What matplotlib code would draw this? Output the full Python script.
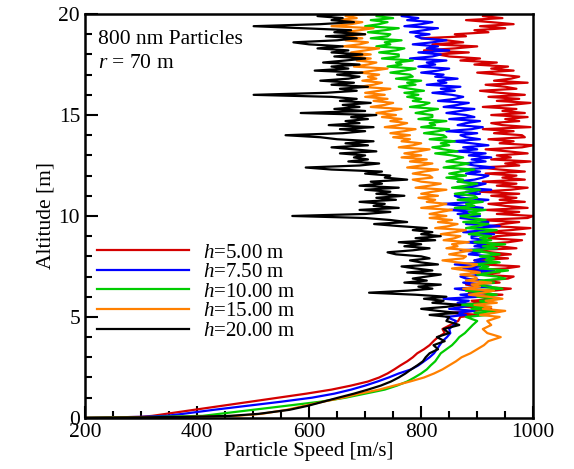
import numpy as np
import matplotlib
matplotlib.use("Agg")
import matplotlib.pyplot as plt
from matplotlib.ticker import MultipleLocator

plt.rcParams['font.family'] = 'Liberation Serif'
plt.rcParams['mathtext.fontset'] = 'custom'
plt.rcParams['mathtext.rm'] = 'Liberation Serif'
plt.rcParams['mathtext.it'] = 'Liberation Serif:italic'

# altitude grid [m]: fine near the ground, then every 0.1 m from 5 m up to 20 m
alt_low = [0.0, 0.05, 0.1, 0.2, 0.4, 0.6, 0.8, 1.0, 1.2, 1.4, 1.6, 1.8, 2.0, 2.2,
           2.4, 2.6, 2.8, 3.0, 3.2, 3.4, 3.6, 3.8, 4.0, 4.2, 4.4, 4.6, 4.8]
alt_high = np.round(np.arange(5.0, 20.001, 0.1), 2)
altitude = np.concatenate([alt_low, alt_high])

# particle speed [m/s], one list per release height
# (upper part: one row per metre of altitude)
h5_low = [200, 300, 320, 345, 395, 445, 495, 545, 595, 640, 675, 705, 725, 740,
          752, 763, 775, 785, 793, 805, 815, 822, 830, 842, 838, 852, 866]
h5_high = [870, 905, 850, 895, 925, 880, 860, 910, 890, 935,
           900, 945, 885, 930, 960, 905, 880, 940, 915, 955,
           965, 900, 940, 885, 950, 975, 910, 935, 895, 955,
           910, 960, 925, 890, 970, 940, 905, 955, 980, 920,
           935, 985, 910, 960, 995, 925, 945, 975, 900, 990,
           1000, 935, 975, 915, 990, 950, 920, 985, 940, 970,
           925, 975, 905, 960, 990, 935, 970, 910, 985, 945,
           970, 915, 985, 940, 905, 975, 950, 995, 925, 960,
           935, 990, 955, 915, 980, 1000, 940, 965, 920, 985,
           980, 930, 965, 910, 995, 945, 925, 975, 950, 990,
           925, 985, 945, 970, 910, 960, 995, 935, 975, 920,
           985, 940, 905, 970, 950, 915, 990, 930, 960, 975,
           940, 900, 965, 925, 955, 895, 935, 870, 905, 850,
           830, 885, 805, 860, 900, 820, 875, 845, 800, 880,
           860, 920, 895, 950, 905, 965, 925, 880, 945, 910,
           935]

h75_low = [200, 300, 345, 375, 430, 490, 550, 605, 645, 675, 700, 722, 742, 760,
           782, 795, 805, 815, 823, 828, 833, 838, 846, 852, 850, 858, 862]
h75_high = [845, 880, 860, 895, 850, 875, 900, 865, 885, 840,
            905, 870, 915, 885, 860, 925, 890, 875, 910, 880,
            870, 915, 890, 930, 875, 905, 860, 920, 895, 910,
            925, 885, 905, 870, 935, 895, 915, 880, 920, 890,
            890, 930, 875, 915, 895, 940, 880, 920, 905, 870,
            905, 865, 895, 850, 910, 875, 840, 895, 920, 870,
            860, 905, 880, 925, 870, 900, 915, 865, 895, 910,
            920, 880, 905, 870, 930, 895, 875, 915, 890, 925,
            885, 915, 860, 900, 875, 920, 890, 855, 905, 880,
            870, 900, 845, 890, 910, 865, 880, 905, 850, 895,
            880, 845, 870, 895, 840, 865, 885, 830, 860, 875,
            855, 820, 860, 835, 870, 810, 845, 830, 865, 825,
            840, 800, 830, 850, 795, 825, 810, 845, 780, 820,
            835, 795, 850, 810, 830, 785, 820, 845, 800, 790,
            815, 780, 805, 830, 770, 800, 820, 775, 795, 765,
            785]

h10_low = [200, 330, 410, 440, 500, 560, 620, 665, 700, 735, 757, 775, 788, 800,
           810, 817, 825, 830, 835, 845, 855, 862, 868, 878, 885, 892, 900]
h10_high = [880, 920, 895, 935, 890, 910, 870, 925, 905, 940,
            900, 935, 910, 880, 945, 920, 895, 930, 905, 950,
            935, 900, 925, 955, 905, 920, 890, 940, 915, 930,
            905, 940, 915, 890, 935, 910, 950, 895, 925, 905,
            925, 885, 910, 935, 880, 900, 920, 875, 915, 890,
            870, 905, 885, 915, 860, 895, 880, 910, 865, 900,
            895, 860, 885, 905, 855, 880, 900, 865, 875, 845,
            880, 850, 870, 895, 840, 865, 885, 845, 860, 875,
            855, 825, 865, 840, 820, 850, 835, 860, 815, 845,
            840, 805, 830, 850, 800, 825, 815, 845, 795, 820,
            820, 790, 810, 830, 780, 805, 815, 785, 800, 775,
            795, 770, 805, 780, 760, 790, 775, 800, 755, 785,
            780, 745, 770, 790, 740, 765, 755, 785, 730, 760,
            760, 725, 755, 770, 720, 745, 735, 765, 710, 740,
            745, 705, 735, 760, 700, 725, 740, 710, 750, 720,
            735]

h15_low = [200, 380, 470, 515, 560, 592, 625, 660, 690, 725, 752, 780, 805, 823,
           838, 850, 862, 872, 888, 900, 912, 920, 942, 918, 910, 925, 918]
h15_high = [940, 905, 930, 950, 910, 925, 895, 935, 915, 945,
            920, 885, 910, 930, 875, 905, 890, 925, 880, 900,
            895, 870, 905, 880, 855, 890, 900, 865, 838, 875,
            880, 850, 870, 890, 845, 865, 855, 885, 840, 860,
            870, 835, 860, 880, 825, 850, 865, 830, 855, 815,
            845, 815, 835, 855, 800, 830, 845, 810, 825, 795,
            830, 800, 820, 845, 790, 815, 835, 800, 785, 820,
            815, 785, 805, 830, 775, 800, 820, 780, 810, 765,
            800, 770, 795, 815, 760, 785, 800, 765, 780, 750,
            780, 745, 770, 790, 735, 760, 775, 745, 765, 730,
            755, 720, 745, 765, 710, 735, 750, 715, 740, 700,
            735, 700, 725, 745, 690, 715, 730, 695, 720, 705,
            725, 690, 715, 740, 680, 705, 720, 685, 710, 670,
            710, 675, 700, 725, 660, 690, 705, 665, 695, 655,
            700, 660, 690, 715, 640, 675, 695, 650, 685, 665,
            700]

h20_low = [200, 380, 460, 510, 565, 598, 625, 652, 680, 705, 728, 746, 760, 772,
           782, 793, 803, 808, 815, 830, 822, 842, 828, 850, 840, 868, 845]
h20_high = [850, 815, 865, 830, 800, 845, 870, 820, 840, 805,
            845, 790, 707, 775, 820, 795, 835, 770, 810, 785,
            810, 835, 775, 820, 790, 765, 830, 800, 780, 815,
            800, 755, 740, 785, 815, 770, 800, 760, 825, 790,
            835, 800, 820, 785, 810, 760, 716, 775, 745, 700,
            570, 700, 745, 690, 760, 715, 735, 690, 755, 720,
            770, 720, 745, 700, 760, 690, 730, 710, 775, 735,
            745, 700, 730, 640, 594, 690, 725, 670, 705, 680,
            700, 655, 720, 680, 640, 705, 665, 715, 650, 620,
            558, 660, 700, 655, 715, 635, 690, 665, 705, 675,
            720, 585, 700, 645, 690, 660, 710, 655, 685, 640,
            501, 630, 685, 655, 705, 640, 680, 620, 670, 690,
            650, 695, 610, 670, 640, 690, 625, 665, 700, 645,
            695, 640, 670, 615, 660, 600, 572, 650, 685, 630,
            700, 645, 675, 590, 501, 620, 680, 640, 660, 615,
            660]

labels = [r'$h$=5.00 m', r'$h$=7.50 m', r'$h$=10.00 m', r'$h$=15.00 m', r'$h$=20.00 m']
colors = ['#d40000', '#0000ff', '#00cc00', '#ff8000', '#000000']
series = [h5_low + h5_high, h75_low + h75_high, h10_low + h10_high,
          h15_low + h15_high, h20_low + h20_high]

fig = plt.figure(figsize=(5.74, 4.69), dpi=100)
ax = fig.add_axes([0.148, 0.109, 0.781, 0.861])

for speed, lab, col in zip(series, labels, colors):
    ax.plot(speed, altitude, color=col, lw=1.6, label=lab)

ax.set_xlim(200, 1000)
ax.set_ylim(0, 20)
ax.xaxis.set_major_locator(MultipleLocator(200))
ax.xaxis.set_minor_locator(MultipleLocator(50))
ax.yaxis.set_major_locator(MultipleLocator(5))
ax.yaxis.set_minor_locator(MultipleLocator(1))
ax.tick_params(which='both', direction='in', labelsize=15.5, width=1.5)
ax.tick_params(which='major', length=9)
ax.tick_params(which='minor', length=5)
for sp in ax.spines.values():
    sp.set_linewidth(1.8)

ax.set_xlabel('Particle Speed [m/s]', fontsize=15, labelpad=0)
ax.set_ylabel('Altitude [m]', fontsize=15.5, labelpad=2)

ax.text(0.03, 0.96, '800 nm Particles\n' + r'$r$ = 70 m', transform=ax.transAxes,
        fontsize=15.5, va='top', ha='left', linespacing=1.35)

ax.legend(loc='upper left', bbox_to_anchor=(0.027, 0.433), frameon=False, fontsize=15,
          handlelength=4.4, handletextpad=0.7, labelspacing=0.0, borderpad=0.0,
          borderaxespad=0.0)

fig.savefig('out.png', dpi=100)
